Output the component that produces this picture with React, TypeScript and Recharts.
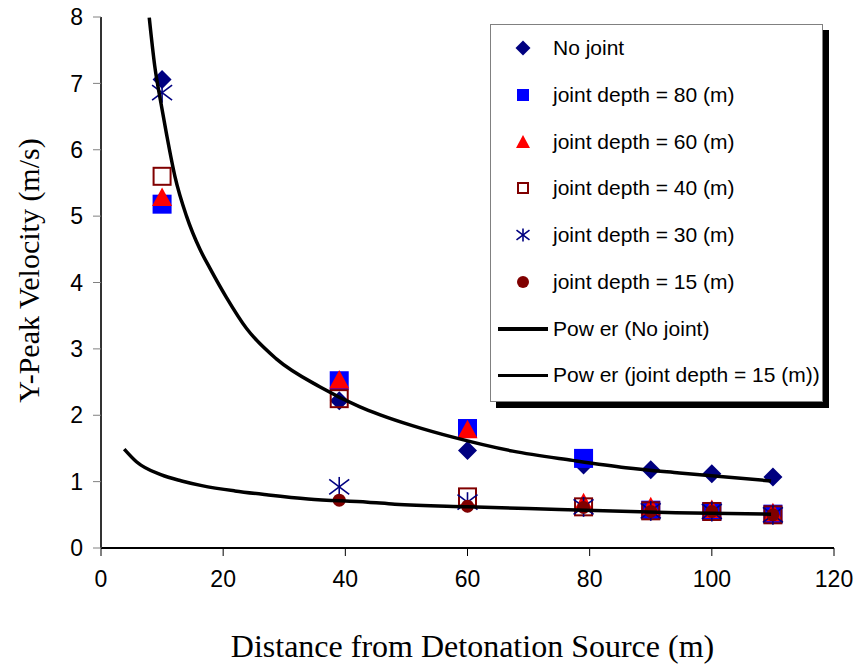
import { ComposedChart, Line, Scatter, XAxis, YAxis, Legend } from "recharts";

// measured points
const distance = [10, 39, 60, 79, 90, 100, 110];
const noJoint = [7.06, 2.22, 1.47, 1.25, 1.18, 1.12, 1.07];
const depth80 = [5.18, 2.52, 1.8, 1.35, 0.57, 0.55, 0.51];
const depth60 = [5.28, 2.53, 1.78, 0.68, 0.62, 0.58, 0.53];
const depth40 = [5.6, 2.25, 0.77, 0.62, 0.56, 0.55, 0.5];
const depth30 = [6.86, 0.92, 0.69, 0.62, 0.56, 0.55, 0.5];
const distance15 = [39, 60, 79, 90, 100, 110];
const depth15 = [0.72, 0.63, 0.61, 0.55, 0.55, 0.5];

// trendlines
const fitNoJointX = [7.9, 8.8, 9.7, 10.7, 12.1, 14, 16.2, 17.8, 20.5, 23.8, 28.7, 35.8, 42.3, 45.6, 51.1, 57.6, 67.4, 77.2, 85.9, 94.7, 109.7];
const fitNoJointY = [7.99, 7.26, 6.76, 6.25, 5.6, 5.0, 4.5, 4.22, 3.78, 3.31, 2.85, 2.43, 2.13, 2.01, 1.84, 1.67, 1.46, 1.32, 1.21, 1.13, 1.01];
const fit15X = [3.8, 5.8, 9.9, 13.2, 16.5, 21.9, 27.4, 33.9, 43.7, 48.1, 60, 75, 94.1, 109.7];
const fit15Y = [1.49, 1.3, 1.1, 1.01, 0.94, 0.86, 0.8, 0.74, 0.69, 0.66, 0.62, 0.58, 0.53, 0.51];

const xTicks = [0, 20, 40, 60, 80, 100, 120];
const yTicks = [0, 1, 2, 3, 4, 5, 6, 7, 8];

const legendLabels = [
  "No joint",
  "joint depth = 80 (m)",
  "joint depth = 60 (m)",
  "joint depth = 40 (m)",
  "joint depth = 30 (m)",
  "joint depth = 15 (m)",
  "Pow er (No joint)",
  "Pow er (joint depth = 15 (m))",
];

const NAVY = "#000080";
const BLUE = "#0000ff";
const RED = "#ff0000";
const MAROON = "#800000";
const SANS = "'Liberation Sans', Arial, sans-serif";
const SERIF = "'Liberation Serif', 'Times New Roman', serif";

const pts = (xs: number[], ys: number[]) => xs.map((x, i) => ({ x, y: ys[i] }));

type M = { cx?: number; cy?: number; s?: number };

const Diamond = ({ cx = 0, cy = 0, s = 9.5 }: M) => (
  <polygon points={`${cx},${cy - s} ${cx + s},${cy} ${cx},${cy + s} ${cx - s},${cy}`} fill={NAVY} />
);
const Square = ({ cx = 0, cy = 0, s = 9.5 }: M) => (
  <rect x={cx - s} y={cy - s} width={2 * s} height={2 * s} fill={BLUE} />
);
const Triangle = ({ cx = 0, cy = 0, s = 10 }: M) => (
  <polygon points={`${cx},${cy - s} ${cx + s},${cy + s * 0.85} ${cx - s},${cy + s * 0.85}`} fill={RED} />
);
const Hollow = ({ cx = 0, cy = 0, s = 8.5 }: M) => (
  <rect x={cx - s} y={cy - s} width={2 * s} height={2 * s} fill="none" stroke={MAROON} strokeWidth={2} />
);
const Star = ({ cx = 0, cy = 0, s = 10 }: M) => (
  <g stroke={NAVY} strokeWidth={1.6}>
    <line x1={cx - s} y1={cy - s * 0.75} x2={cx + s} y2={cy + s * 0.75} />
    <line x1={cx - s} y1={cy + s * 0.75} x2={cx + s} y2={cy - s * 0.75} />
    <line x1={cx} y1={cy - s} x2={cx} y2={cy + s} />
  </g>
);
const Dot = ({ cx = 0, cy = 0, s = 6.5 }: M) => <circle cx={cx} cy={cy} r={s} fill={MAROON} />;

const legendIcons = [
  <Diamond cx={10} cy={10} s={7.5} />,
  <Square cx={10} cy={10} s={6} />,
  <Triangle cx={10} cy={10} s={7} />,
  <Hollow cx={10} cy={10} s={5} />,
  <Star cx={10} cy={10} s={6.5} />,
  <Dot cx={10} cy={10} s={6} />,
];

function LegendBox() {
  return (
    <div
      style={{
        position: "relative",
        width: 333,
        height: 378,
        boxSizing: "border-box",
        border: "1px solid #808080",
        background: "#fff",
        boxShadow: "6px 6px 0 #000",
        fontFamily: SANS,
        fontSize: 21,
        color: "#000",
      }}
    >
      {legendLabels.map((label, i) => (
        <div key={label} style={{ position: "absolute", left: 0, top: 23.3 + i * 46.7 - 12, height: 24, width: 330 }}>
          {i < 6 ? (
            <svg width={20} height={20} style={{ position: "absolute", left: 22, top: 2 }}>
              {legendIcons[i]}
            </svg>
          ) : (
            <div style={{ position: "absolute", left: 7, top: 10.5, width: 50, height: 3.5, background: "#000" }} />
          )}
          <span style={{ position: "absolute", left: 62, top: 0, lineHeight: "24px", whiteSpace: "nowrap" }}>{label}</span>
        </div>
      ))}
    </div>
  );
}

export default function App() {
  return (
    <div style={{ position: "absolute", left: 0, top: 0, width: 860, height: 664, background: "#fff" }}>
      <ComposedChart width={860} height={664} margin={{ top: 17, right: 26, left: 0, bottom: 0 }}>
        <XAxis
          dataKey="x"
          type="number"
          domain={[0, 120]}
          ticks={xTicks}
          height={116}
          tickSize={8}
          tickMargin={15}
          axisLine={{ stroke: "#000", strokeWidth: 2 }}
          tickLine={{ stroke: "#000" }}
          tick={{ fill: "#000", fontSize: 23, fontFamily: SANS }}
          label={{
            value: "Distance from Detonation Source (m)",
            position: "insideBottom",
            offset: 7,
            dx: 5,
            fill: "#000",
            fontSize: 32,
            fontFamily: SERIF,
          }}
        />
        <XAxis xAxisId="top" orientation="top" type="number" domain={[0, 120]} height={0} tick={false} tickLine={false} axisLine={{ stroke: "#000", strokeWidth: 2 }} />
        <YAxis
          dataKey="y"
          type="number"
          domain={[0, 8]}
          ticks={yTicks}
          allowDataOverflow
          width={101}
          tickSize={8}
          tickMargin={10}
          axisLine={{ stroke: "#333", strokeWidth: 2 }}
          tickLine={{ stroke: "#808080" }}
          tick={{ fill: "#000", fontSize: 23, fontFamily: SANS }}
          label={{
            value: "Y-Peak Velocity (m/s)",
            angle: -90,
            position: "insideLeft",
            offset: 28,
            dy: -12,
            fill: "#000",
            fontSize: 30,
            fontFamily: SERIF,
            style: { textAnchor: "middle" },
          }}
        />
        <YAxis yAxisId="right" orientation="right" type="number" domain={[0, 8]} width={0} tick={false} tickLine={false} axisLine={{ stroke: "#333", strokeWidth: 1 }} />
        <Legend
          layout="vertical"
          align="center"
          verticalAlign="middle"
          wrapperStyle={{ left: 490, top: 24, width: 333, height: 378 }}
          content={() => <LegendBox />}
        />
        <Scatter name="No joint" data={pts(distance, noJoint)} dataKey="y" isAnimationActive={false} shape={(p: any) => <Diamond cx={p.cx} cy={p.cy} />} />
        <Scatter name="joint depth = 80 (m)" data={pts(distance, depth80)} dataKey="y" isAnimationActive={false} shape={(p: any) => <Square cx={p.cx} cy={p.cy} />} />
        <Scatter name="joint depth = 60 (m)" data={pts(distance, depth60)} dataKey="y" isAnimationActive={false} shape={(p: any) => <Triangle cx={p.cx} cy={p.cy} />} />
        <Scatter name="joint depth = 40 (m)" data={pts(distance, depth40)} dataKey="y" isAnimationActive={false} shape={(p: any) => <Hollow cx={p.cx} cy={p.cy} />} />
        <Scatter name="joint depth = 30 (m)" data={pts(distance, depth30)} dataKey="y" isAnimationActive={false} shape={(p: any) => <Star cx={p.cx} cy={p.cy} />} />
        <Scatter name="joint depth = 15 (m)" data={pts(distance15, depth15)} dataKey="y" isAnimationActive={false} shape={(p: any) => <Dot cx={p.cx} cy={p.cy} />} />
        <Line name="Pow er (No joint)" data={pts(fitNoJointX, fitNoJointY)} dataKey="y" type="monotone" stroke="#000" strokeWidth={3.5} dot={false} isAnimationActive={false} zIndex={700} />
        <Line name="Pow er (joint depth = 15 (m))" data={pts(fit15X, fit15Y)} dataKey="y" type="monotone" stroke="#000" strokeWidth={3.5} dot={false} isAnimationActive={false} zIndex={700} />
      </ComposedChart>
    </div>
  );
}
